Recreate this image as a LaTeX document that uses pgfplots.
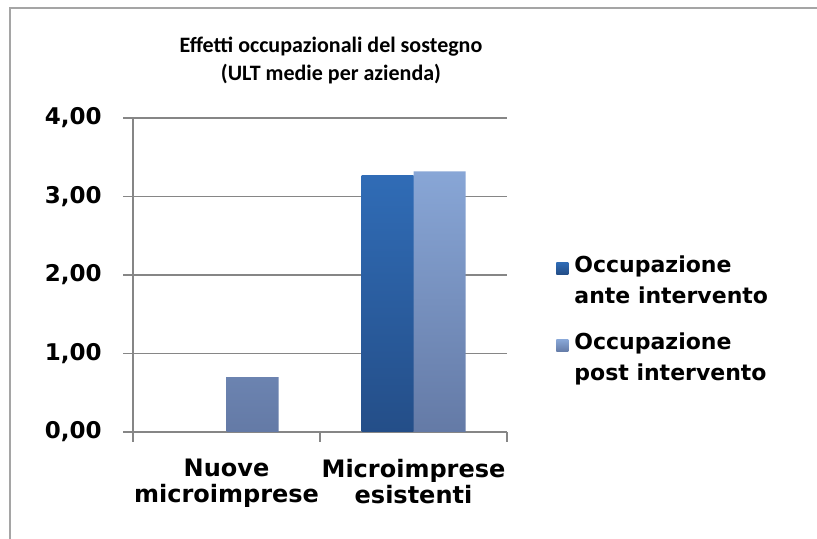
\documentclass[border=0pt]{standalone}
\usepackage{fontspec}
\setmainfont{DejaVu Sans}
\newfontfamily\titlefont{Carlito}
\usepackage{pgfplots}
\pgfplotsset{compat=1.18}

\definecolor{gridc}{RGB}{134,134,134}
\definecolor{framec}{RGB}{165,165,165}
\definecolor{anteTop}{RGB}{48,108,182}
\definecolor{anteBot}{RGB}{36,78,136}
\definecolor{postTop}{RGB}{136,166,214}
\definecolor{postBot}{RGB}{100,122,166}

\begin{document}
\begin{tikzpicture}[x=0.5pt,y=0.5pt]
\useasboundingbox (0,0) rectangle (817,539);
% chart frame (left and top edges visible)
\draw[framec, line width=1.4pt] (10,-10) -- (10,531) -- (830,531);

\node[align=center, font=\titlefont\bfseries\fontsize{11}{14}\selectfont]
  at (331,478) {Effetti occupazionali del sostegno\\(ULT medie per azienda)};

\begin{axis}[
  at={(66.5pt,53.5pt)}, anchor=south west,
  scale only axis, width=187pt, height=157pt,
  ybar=0pt, bar width=26pt,
  xmin=-0.5, xmax=1.5, ymin=0, ymax=4,
  enlargelimits=false,
  axis x line*=bottom, axis y line*=left,
  axis line style={gridc, line width=0.75pt},
  tick style={gridc, line width=0.75pt},
  tick align=outside, major tick length=5pt,
  xtick={-0.5,0.5,1.5},
  x tick label as interval,
  xticklabels={Nuove\\microimprese, Microimprese\\esistenti},
  x tick label style={align=center, anchor=north, inner sep=0pt, yshift=-8.5pt,
    font=\bfseries\fontsize{12}{13}\selectfont},
  ytick={0,1,2,3,4},
  ymajorgrids, grid style={gridc, line width=0.75pt},
  y tick label style={anchor=east, inner sep=0pt, xshift=-10.5pt,
    font=\bfseries\fontsize{11.5}{13}\selectfont},
  yticklabel style={/pgf/number format/.cd, fixed, fixed zerofill, precision=2,
    use comma, assume math mode=true},
  legend style={at={(1.131,0.564)}, anchor=north west, draw=none, fill=none,
    inner sep=0pt, row sep=13.5pt,
    nodes={inner sep=0pt, align=left, font=\bfseries\fontsize{11}{15.5}\selectfont},
    /tikz/every odd column/.append style={column sep=3pt}},
  legend cell align=left,
  legend image code/.code={\path[#1, draw=none] (0pt,3.3pt) rectangle (6pt,9.3pt);},
]
\addplot[draw=none, top color=anteTop, bottom color=anteBot]
  coordinates {(1,3.27)};
\addplot[draw=none, top color=postTop, bottom color=postBot]
  coordinates {(0,0.70) (1,3.32)};
\legend{Occupazione\\ante intervento, Occupazione\\post intervento}
\end{axis}
\end{tikzpicture}
\end{document}
